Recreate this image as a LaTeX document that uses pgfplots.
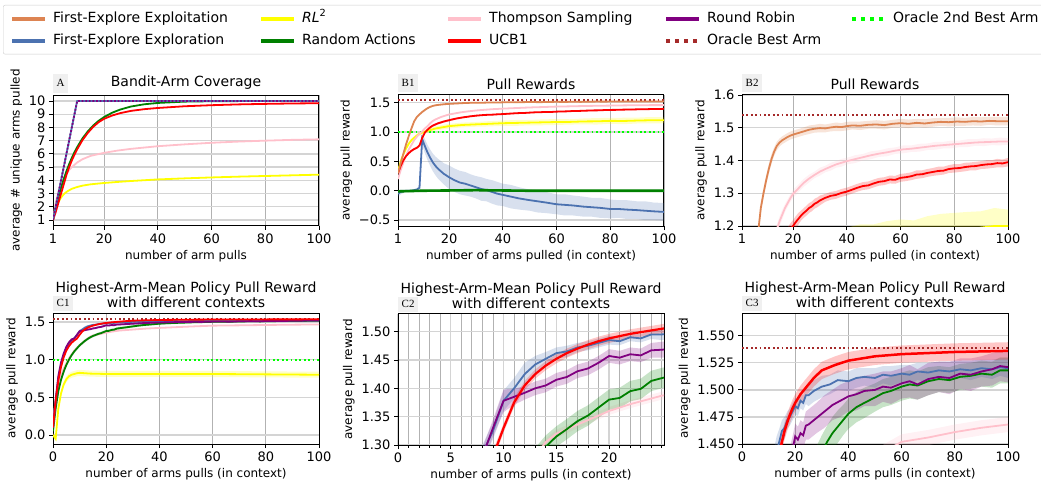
\documentclass[border=0pt]{standalone}
\usepackage{fontspec}
\setmainfont{DejaVu Sans}
\newfontfamily\panelfont{Liberation Serif}
\usepackage{pgfplots}
\pgfplotsset{compat=1.18}
\usepgfplotslibrary{fillbetween}
\usepackage{pgfplotstable}

\definecolor{cexploit}{HTML}{DD8452}
\definecolor{cexplore}{HTML}{4C72B0}
\definecolor{crl}{HTML}{FFFF00}
\definecolor{crandom}{HTML}{008000}
\definecolor{cts}{HTML}{FFC0CB}
\definecolor{cucb}{HTML}{FF0000}
\definecolor{crr}{HTML}{800080}
\definecolor{cbest}{HTML}{A52A2A}
\definecolor{csecond}{HTML}{00FF00}

% ---- A: coverage ----
\pgfplotstableread{
x y
1 1
10 10
100 10
}\aSeq
\pgfplotstableread{
x y
1 1
2 1.9
3 2.71
4 3.44
5 4.1
6 4.69
7 5.22
8 5.7
9 6.13
10 6.51
12 7.18
14 7.71
16 8.15
18 8.5
20 8.78
23 9.11
26 9.35
30 9.58
35 9.75
40 9.85
50 9.95
60 9.98
80 10
100 10
}\aRand
\pgfplotstableread{
x y
1 1
2 1.6
3 2.3
4 3.0
5 3.7
6 4.4
7 5.0
8 5.5
9 5.95
10 6.35
12 7.05
14 7.6
16 8.05
18 8.4
20 8.65
23 8.9
26 9.08
30 9.25
35 9.38
40 9.47
50 9.6
60 9.68
70 9.74
80 9.78
90 9.81
100 9.83
}\aUCB
\pgfplotstableread{
x y
1 1
2 2.3
3 3.1
4 3.7
5 4.15
6 4.5
7 4.78
8 5.0
10 5.35
12 5.6
15 5.85
20 6.08
25 6.25
30 6.38
40 6.58
50 6.72
60 6.84
70 6.93
80 7.0
90 7.06
100 7.1
}\aTS
\pgfplotstableread{
x y
1 1
2 1.85
3 2.35
4 2.7
5 2.95
6 3.12
7 3.25
8 3.36
10 3.5
12 3.6
15 3.7
20 3.8
25 3.88
30 3.95
40 4.07
50 4.15
60 4.22
70 4.28
80 4.33
90 4.38
100 4.43
}\aRL

% ---- B: pull rewards (x, mean, half band) ----
\pgfplotstableread{
x y d
1 0.30 0.02
2 0.47 0.02
3 0.63 0.02
4 0.79 0.02
5 0.93 0.02
6 1.06 0.02
7 1.18 0.02
8 1.255 0.015
9 1.30 0.015
10 1.34 0.015
11 1.375 0.015
12 1.405 0.015
13 1.428 0.013
14 1.445 0.013
15 1.455 0.012
16 1.462 0.012
17 1.467 0.012
18 1.472 0.012
19 1.476 0.012
20 1.479 0.012
22 1.484 0.012
24 1.489 0.012
26 1.494 0.013
28 1.497 0.012
30 1.499 0.013
32 1.498 0.012
34 1.501 0.012
36 1.503 0.013
38 1.502 0.012
40 1.505 0.013
42 1.507 0.012
45 1.506 0.013
48 1.509 0.012
51 1.510 0.013
54 1.508 0.013
57 1.512 0.012
60 1.514 0.013
63 1.512 0.013
66 1.515 0.012
69 1.513 0.013
72 1.516 0.013
75 1.518 0.012
78 1.517 0.013
81 1.519 0.013
84 1.518 0.012
87 1.520 0.013
90 1.519 0.013
93 1.521 0.012
96 1.520 0.013
100 1.520 0.013
}\bExploit
\pgfplotstableread{
x y d
1 0.20 0.02
2 0.35 0.02
3 0.48 0.02
4 0.60 0.02
5 0.70 0.02
6 0.78 0.02
7 0.86 0.02
8 0.92 0.02
9 0.97 0.02
10 1.01 0.02
11 1.06 0.015
12 1.10 0.015
13 1.15 0.015
14 1.19 0.015
15 1.215 0.015
16 1.235 0.015
17 1.255 0.012
18 1.27 0.012
19 1.285 0.012
20 1.298 0.012
22 1.315 0.012
24 1.332 0.012
26 1.345 0.012
28 1.356 0.01
30 1.366 0.012
32 1.374 0.01
34 1.381 0.012
36 1.388 0.01
38 1.393 0.012
40 1.398 0.01
43 1.404 0.012
46 1.41 0.01
49 1.416 0.012
52 1.421 0.01
55 1.425 0.012
58 1.43 0.01
61 1.434 0.012
64 1.436 0.01
67 1.439 0.012
70 1.442 0.01
73 1.445 0.012
76 1.447 0.01
79 1.449 0.012
82 1.451 0.01
85 1.453 0.012
88 1.455 0.01
91 1.456 0.012
94 1.457 0.01
97 1.458 0.012
100 1.458 0.01
}\bTS
\pgfplotstableread{
x y d
1 0.30 0.02
2 0.42 0.02
3 0.52 0.02
4 0.59 0.02
5 0.64 0.02
6 0.68 0.02
7 0.71 0.02
8 0.73 0.02
9 0.77 0.02
10 0.90 0.02
11 0.99 0.02
12 1.04 0.02
13 1.08 0.02
14 1.11 0.02
15 1.13 0.02
16 1.15 0.02
17 1.163 0.02
18 1.178 0.018
19 1.19 0.018
20 1.20 0.018
21 1.212 0.018
22 1.222 0.018
23 1.232 0.015
24 1.24 0.015
25 1.247 0.015
26 1.255 0.015
27 1.26 0.015
28 1.268 0.015
29 1.272 0.015
30 1.278 0.015
32 1.286 0.012
34 1.292 0.012
36 1.295 0.012
38 1.301 0.012
40 1.305 0.012
42 1.311 0.012
44 1.317 0.012
46 1.322 0.012
48 1.324 0.012
50 1.330 0.012
52 1.335 0.012
54 1.337 0.012
56 1.342 0.012
58 1.341 0.012
60 1.347 0.012
62 1.349 0.012
64 1.352 0.012
66 1.357 0.013
68 1.358 0.012
70 1.362 0.012
72 1.365 0.012
74 1.368 0.013
76 1.369 0.012
78 1.374 0.012
80 1.376 0.013
82 1.377 0.012
84 1.380 0.013
86 1.382 0.012
88 1.383 0.013
90 1.386 0.012
92 1.388 0.013
94 1.389 0.012
96 1.392 0.013
98 1.391 0.012
100 1.395 0.013
}\bUCB
\pgfplotstableread{
x y d
1 0.33 0.03
2 0.5 0.03
3 0.62 0.03
4 0.72 0.03
5 0.8 0.03
6 0.86 0.03
7 0.9 0.03
8 0.94 0.03
9 0.97 0.03
10 0.99 0.03
12 1.02 0.03
15 1.06 0.035
20 1.10 0.04
25 1.12 0.04
30 1.13 0.04
35 1.14 0.045
40 1.15 0.045
45 1.155 0.05
50 1.16 0.045
55 1.165 0.05
60 1.17 0.05
65 1.172 0.045
70 1.18 0.05
75 1.182 0.055
80 1.19 0.05
85 1.188 0.055
90 1.195 0.05
95 1.2 0.055
100 1.2 0.05
}\bRL
\pgfplotstableread{
x y d
1 -0.05 0.05
2 -0.02 0.04
3 -0.01 0.03
4 0.0 0.02
5 0.0 0.02
6 0.0 0.02
7 0.01 0.02
8 0.02 0.02
9 0.05 0.04
10 0.88 0.1
11 0.76 0.12
12 0.65 0.13
13 0.56 0.14
14 0.48 0.15
15 0.42 0.16
16 0.37 0.17
18 0.29 0.18
20 0.23 0.2
22 0.18 0.2
24 0.14 0.2
26 0.12 0.2
28 0.09 0.19
30 0.06 0.19
32 0.03 0.2
34 0.01 0.19
36 -0.02 0.2
38 -0.05 0.2
40 -0.07 0.19
43 -0.10 0.2
46 -0.13 0.19
50 -0.16 0.18
53 -0.18 0.19
56 -0.20 0.18
60 -0.23 0.17
63 -0.24 0.18
66 -0.25 0.17
70 -0.27 0.17
73 -0.28 0.16
76 -0.29 0.17
80 -0.31 0.16
83 -0.31 0.15
86 -0.32 0.16
90 -0.33 0.15
93 -0.34 0.16
96 -0.35 0.15
100 -0.36 0.15
}\bExplore
\pgfplotstableread{
x y d
1 -0.01 0.02
10 0.0 0.02
30 0.01 0.02
50 0.0 0.02
70 0.0 0.02
100 0.0 0.02
}\bRand

% ---- C: highest-arm-mean policy ----
\pgfplotstableread{
x y d
0 0.10 0.03
1 0.45 0.03
2 0.72 0.03
3 0.90 0.025
4 1.03 0.02
5 1.12 0.02
6 1.18 0.015
7 1.225 0.015
8 1.255 0.01
9 1.28 0.01
10 1.33 0.008
11 1.375 0.008
12 1.405 0.008
13 1.425 0.008
14 1.44 0.008
15 1.452 0.008
16 1.462 0.008
17 1.47 0.008
18 1.477 0.008
19 1.483 0.008
20 1.488 0.008
21 1.492 0.008
22 1.496 0.008
23 1.499 0.008
24 1.502 0.008
25 1.505 0.008
27 1.511 0.008
30 1.518 0.008
35 1.523 0.008
40 1.527 0.008
45 1.529 0.008
50 1.531 0.008
60 1.533 0.008
70 1.534 0.008
80 1.535 0.008
90 1.5355 0.008
100 1.536 0.008
}\cUCB
\pgfplotstableread{
x y d
0 0.10 0.03
1 0.45 0.03
2 0.75 0.03
3 0.93 0.03
4 1.06 0.02
5 1.15 0.02
6 1.21 0.015
7 1.25 0.015
8 1.285 0.015
9 1.325 0.015
10 1.378 0.018
11 1.40 0.018
12 1.425 0.02
13 1.442 0.015
14 1.452 0.012
15 1.462 0.01
16 1.465 0.01
17 1.472 0.008
18 1.475 0.008
19 1.48 0.008
20 1.485 0.008
21 1.483 0.007
22 1.49 0.007
23 1.488 0.007
24 1.495 0.008
25 1.495 0.01
27 1.499 0.01
30 1.503 0.01
33 1.505 0.009
36 1.509 0.009
40 1.508 0.009
43 1.511 0.009
46 1.512 0.008
50 1.511 0.009
53 1.514 0.008
56 1.513 0.009
60 1.515 0.008
63 1.514 0.009
66 1.517 0.008
70 1.516 0.009
74 1.518 0.008
78 1.517 0.009
82 1.519 0.008
86 1.518 0.009
90 1.52 0.008
94 1.519 0.009
97 1.521 0.008
100 1.52 0.009
}\cExplore
\pgfplotstableread{
x y d
0 0.10 0.03
1 0.47 0.03
2 0.78 0.03
3 0.96 0.025
4 1.08 0.02
5 1.17 0.02
6 1.23 0.015
7 1.27 0.015
8 1.28 0.015
9 1.33 0.015
10 1.378 0.02
11 1.385 0.014
12 1.392 0.012
13 1.40 0.012
14 1.405 0.012
15 1.415 0.012
16 1.42 0.012
17 1.43 0.012
18 1.435 0.012
19 1.445 0.012
20 1.457 0.012
21 1.454 0.012
22 1.46 0.012
23 1.458 0.012
24 1.467 0.013
25 1.468 0.014
28 1.474 0.014
31 1.48 0.015
34 1.486 0.014
37 1.49 0.015
40 1.494 0.014
43 1.496 0.015
46 1.499 0.014
50 1.50 0.015
53 1.503 0.014
56 1.502 0.015
60 1.506 0.014
63 1.508 0.015
66 1.505 0.014
70 1.51 0.015
74 1.512 0.014
78 1.511 0.015
82 1.515 0.014
86 1.514 0.015
90 1.517 0.014
94 1.519 0.015
97 1.522 0.014
100 1.521 0.014
}\cRR
\pgfplotstableread{
x y d
0 0.05 0.03
1 0.35 0.03
2 0.58 0.03
3 0.73 0.03
4 0.84 0.025
5 0.93 0.025
6 1.0 0.02
7 1.06 0.02
8 1.11 0.02
9 1.15 0.02
10 1.19 0.02
11 1.22 0.02
12 1.25 0.02
13 1.275 0.02
14 1.297 0.02
15 1.315 0.018
16 1.328 0.018
17 1.342 0.018
18 1.352 0.018
19 1.366 0.018
20 1.38 0.018
21 1.383 0.018
22 1.395 0.018
23 1.399 0.018
24 1.413 0.018
25 1.418 0.018
28 1.432 0.016
30 1.442 0.016
32 1.452 0.015
34 1.46 0.015
36 1.466 0.015
38 1.472 0.014
40 1.478 0.014
43 1.484 0.014
46 1.488 0.014
50 1.493 0.013
53 1.497 0.013
56 1.499 0.013
60 1.503 0.013
63 1.505 0.013
66 1.504 0.013
70 1.508 0.013
74 1.51 0.012
78 1.509 0.012
82 1.512 0.012
86 1.513 0.012
90 1.515 0.012
94 1.514 0.012
97 1.518 0.012
100 1.518 0.012
}\cRand
\pgfplotstableread{
x y d
0 0.20 0.02
1 0.45 0.02
2 0.65 0.02
3 0.78 0.02
4 0.88 0.015
5 0.95 0.015
6 1.02 0.012
7 1.07 0.01
8 1.12 0.01
9 1.16 0.008
10 1.19 0.008
11 1.22 0.007
12 1.25 0.007
13 1.28 0.007
14 1.305 0.007
15 1.32 0.007
16 1.328 0.007
17 1.336 0.007
18 1.344 0.007
19 1.352 0.007
20 1.36 0.007
21 1.366 0.007
22 1.372 0.007
23 1.377 0.007
24 1.382 0.007
25 1.387 0.007
30 1.40 0.007
35 1.413 0.007
40 1.422 0.007
45 1.43 0.007
50 1.438 0.007
55 1.445 0.007
60 1.452 0.007
70 1.456 0.007
80 1.461 0.007
90 1.465 0.007
100 1.468 0.007
}\cTS
\pgfplotstableread{
x y d
0 0.0 0.03
1 -0.05 0.03
2 0.35 0.04
3 0.55 0.04
4 0.67 0.04
5 0.74 0.04
6 0.78 0.04
7 0.80 0.04
8 0.81 0.04
9 0.82 0.04
10 0.825 0.04
12 0.82 0.04
14 0.815 0.04
20 0.81 0.04
40 0.81 0.04
60 0.81 0.04
80 0.805 0.04
100 0.80 0.04
}\cRL

\newcommand{\band}[3]{%
  \addplot[draw=none, forget plot, name path=#3u] table[x=x, y expr=\thisrow{y}+\thisrow{d}] {#1};
  \addplot[draw=none, forget plot, name path=#3l] table[x=x, y expr=\thisrow{y}-\thisrow{d}] {#1};
  \addplot[fill=#2, fill opacity=0.22, draw=none, forget plot] fill between[of=#3u and #3l];
}

\tikzset{
  plabel/.style={anchor=south west, fill=black!6, inner xsep=3.5pt, inner ysep=4.5pt,
    text height=8pt, text depth=1.5pt, font=\panelfont\fontsize{11}{11}\selectfont},
  clabel/.style={plabel, inner ysep=3pt},
  subtitle/.style={anchor=south, inner sep=0pt, yshift=5pt, font=\fontsize{14}{16}\selectfont},
  oracle/.style={line width=1.8pt, dash pattern=on 1.8pt off 2.6pt},
}
\pgfplotsset{
  panel/.style={
    scale only axis, width=266pt, height=131pt,
    clip mode=individual,
    axis line style={line width=1pt},
    tick align=outside, tick pos=left,
    major tick length=4pt, minor tick length=2.5pt,
    tick style={black, line width=0.8pt},
    xmajorgrids, ymajorgrids,
    x grid style={black!30, line width=0.8pt},
    y grid style={black!17, line width=1.3pt},
    tick label style={font=\fontsize{13}{15}\selectfont},
    label style={font=\fontsize{12}{14}\selectfont},
    title style={font=\fontsize{14}{16}\selectfont, align=center, at={(0.5,1)}, anchor=south, inner sep=0pt, yshift=-1pt},
    /pgf/number format/assume math mode=true,
    scaled ticks=false,
    every axis plot/.append style={line width=1.8pt},
  },
  cpanel/.style={panel,
    title={Highest-Arm-Mean Policy Pull Reward},
    title style={yshift=12.7pt},
    xlabel={number of arms pulls (in context)}, ylabel={average pull reward}},
}

\begin{document}
\begin{tikzpicture}

% A
\begin{axis}[panel, at={(53pt,254pt)}, anchor=south west,
  xmin=1, xmax=100, ymin=0.55, ymax=10.45,
  xtick={1,20,40,60,80,100}, ytick={1,2,...,10},
  title={Bandit-Arm Coverage},
  xlabel={number of arm pulls}, ylabel={average \# unique arms pulled}]
  \addplot[crl] table[x=x,y=y] {\aRL};
  \addplot[cts] table[x=x,y=y] {\aTS};
  \addplot[crandom] table[x=x,y=y] {\aRand};
  \addplot[cucb] table[x=x,y=y] {\aUCB};
  \addplot[cexplore] table[x=x,y=y] {\aSeq};
  \addplot[crr, dash pattern=on 1.8pt off 1.8pt] table[x=x,y=y] {\aSeq};
  \node[plabel, yshift=2pt] at (rel axis cs:0,1) {A};
\end{axis}

% B1
\begin{axis}[panel, at={(398pt,254pt)}, anchor=south west,
  xmin=1, xmax=100, ymin=-0.6, ymax=1.63,
  xtick={1,20,40,60,80,100}, ytick={-0.5,0,0.5,1,1.5},
  yticklabels={−0.5,0.0,0.5,1.0,1.5},
  title={Pull Rewards},
  xlabel={number of arms pulled (in context)}, ylabel={average pull reward}]
  \band{\bExplore}{cexplore}{be}
  \band{\bRand}{crandom}{br}
  \band{\bRL}{crl}{bl}
  \band{\bTS}{cts}{bt}
  \band{\bUCB}{cucb}{bu}
  \band{\bExploit}{cexploit}{bx}
  \addplot[cbest, oracle] coordinates {(1,1.539) (100,1.539)};
  \addplot[csecond, oracle] coordinates {(1,1.0) (100,1.0)};
  \addplot[cexplore] table[x=x,y=y] {\bExplore};
  \addplot[crandom, line width=2.6pt] table[x=x,y=y] {\bRand};
  \addplot[crl] table[x=x,y=y] {\bRL};
  \addplot[cts] table[x=x,y=y] {\bTS};
  \addplot[cucb] table[x=x,y=y] {\bUCB};
  \addplot[cexploit] table[x=x,y=y] {\bExploit};
  \node[plabel, yshift=2.3pt] at (rel axis cs:0,1) {B1};
\end{axis}

% B2
\begin{axis}[panel, at={(742pt,254pt)}, anchor=south west,
  xmin=1, xmax=100, ymin=1.2, ymax=1.6,
  xtick={1,20,40,60,80,100}, ytick={1.2,1.3,1.4,1.5,1.6},
  yticklabel style={/pgf/number format/.cd, fixed, fixed zerofill, precision=1},
  title={Pull Rewards},
  xlabel={number of arms pulled (in context)}, ylabel={average pull reward}]
  \band{\bRL}{crl}{bl}
  \band{\bTS}{cts}{bt}
  \band{\bUCB}{cucb}{bu}
  \band{\bExploit}{cexploit}{bx}
  \addplot[cbest, oracle] coordinates {(1,1.539) (100,1.539)};
  \addplot[crl] table[x=x,y=y] {\bRL};
  \addplot[cts] table[x=x,y=y] {\bTS};
  \addplot[cucb] table[x=x,y=y] {\bUCB};
  \addplot[cexploit] table[x=x,y=y] {\bExploit};
  \node[plabel, yshift=2.3pt] at (rel axis cs:0,1) {B2};
\end{axis}

% C1
\begin{axis}[cpanel, at={(53pt,36pt)}, anchor=south west,
  xmin=0, xmax=100, ymin=-0.12, ymax=1.62,
  xtick={0,20,40,60,80,100}, ytick={0,0.5,1,1.5},
  yticklabel style={/pgf/number format/.cd, fixed, fixed zerofill, precision=1}]
  \band{\cRL}{crl}{cl}
  \band{\cTS}{cts}{ct}
  \band{\cRand}{crandom}{cr}
  \band{\cExplore}{cexplore}{ce}
  \band{\cRR}{crr}{cp}
  \band{\cUCB}{cucb}{cu}
  \addplot[cbest, oracle] coordinates {(0,1.539) (100,1.539)};
  \addplot[csecond, oracle] coordinates {(0,1.0) (100,1.0)};
  \addplot[crl] table[x=x,y=y] {\cRL};
  \addplot[cts] table[x=x,y=y] {\cTS};
  \addplot[crandom] table[x=x,y=y] {\cRand};
  \addplot[cexplore] table[x=x,y=y] {\cExplore};
  \addplot[crr] table[x=x,y=y] {\cRR};
  \addplot[cucb] table[x=x,y=y] {\cUCB};
  \node[subtitle] at (rel axis cs:0.5,1) {with different contexts};
  \node[clabel, yshift=1.5pt] at (rel axis cs:0,1) {C1};
\end{axis}

% C2
\begin{axis}[cpanel, at={(398pt,35pt)}, anchor=south west,
  xmin=0, xmax=25.2, ymin=1.3, ymax=1.531,
  xtick={0,5,10,15,20}, minor xtick={1,2,...,25},
  xminorgrids,
  x grid style={black!17, line width=1.3pt},
  minor x grid style={black!30, line width=0.8pt},
  ytick={1.3,1.35,1.4,1.45,1.5},
  yticklabel style={/pgf/number format/.cd, fixed, fixed zerofill, precision=2}]
  \band{\cTS}{cts}{ct}
  \band{\cRand}{crandom}{cr}
  \band{\cExplore}{cexplore}{ce}
  \band{\cRR}{crr}{cp}
  \band{\cUCB}{cucb}{cu}
  \addplot[cts] table[x=x,y=y] {\cTS};
  \addplot[crandom] table[x=x,y=y] {\cRand};
  \addplot[cexplore] table[x=x,y=y] {\cExplore};
  \addplot[crr] table[x=x,y=y] {\cRR};
  \addplot[cucb, line width=2.2pt] table[x=x,y=y] {\cUCB};
  \node[subtitle] at (rel axis cs:0.5,1) {with different contexts};
  \node[clabel, yshift=1.5pt] at (rel axis cs:0,1) {C2};
\end{axis}

% C3
\begin{axis}[cpanel, at={(742pt,36pt)}, anchor=south west,
  xmin=0, xmax=100, ymin=1.45, ymax=1.571,
  xtick={0,20,40,60,80,100}, ytick={1.45,1.475,1.5,1.525,1.55},
  yticklabel style={/pgf/number format/.cd, fixed, fixed zerofill, precision=3}]
  \band{\cTS}{cts}{ct}
  \band{\cRand}{crandom}{cr}
  \band{\cExplore}{cexplore}{ce}
  \band{\cRR}{crr}{cp}
  \band{\cUCB}{cucb}{cu}
  \addplot[cbest, oracle] coordinates {(0,1.539) (100,1.539)};
  \addplot[cts] table[x=x,y=y] {\cTS};
  \addplot[crandom] table[x=x,y=y] {\cRand};
  \addplot[cexplore] table[x=x,y=y] {\cExplore};
  \addplot[crr] table[x=x,y=y] {\cRR};
  \addplot[cucb, line width=2.5pt] table[x=x,y=y] {\cUCB};
  \node[subtitle] at (rel axis cs:0.5,1) {with different contexts};
  \node[clabel, yshift=1.5pt] at (rel axis cs:0,1) {C3};
\end{axis}

% legend
\begin{axis}[hide axis, scale only axis, width=10pt, height=10pt,
  xmin=0, xmax=1, ymin=0, ymax=1,
  at={(3pt,475pt)}, anchor=north west,
  legend columns=5, legend cell align=left,
  legend image code/.code={\draw[#1] (0pt,0pt) -- (33pt,0pt);},
  legend style={at={(0,1)}, anchor=north west, draw=black!20, rounded corners=2pt,
    font=\fontsize{14}{16}\selectfont, inner xsep=7pt, inner ysep=4.5pt, row sep=4pt,
    nodes={inner xsep=0pt, inner ysep=2pt, text height=10.5pt, text depth=3.5pt},
    /tikz/every odd column/.append style={column sep=6pt},
    /tikz/every even column/.append style={column sep=0pt}}]
  \addlegendimage{cexploit, line width=4pt}
  \addlegendimage{crl, line width=4pt}
  \addlegendimage{cts, line width=4pt}
  \addlegendimage{crr, line width=4pt}
  \addlegendimage{csecond, line width=4pt, dash pattern=on 4pt off 5pt}
  \addlegendimage{cexplore, line width=4pt}
  \addlegendimage{crandom, line width=4pt}
  \addlegendimage{cucb, line width=4pt}
  \addlegendimage{cbest, line width=4pt, dash pattern=on 4pt off 5pt}
  \addplot[draw=none] coordinates {(0,0) (1,1)};
  \legend{\makebox[206pt][l]{First-Explore Exploitation},
    \makebox[144pt][l]{\textit{RL}\textsuperscript{2}},
    \makebox[175pt][l]{Thompson Sampling},
    \makebox[143pt][l]{Round Robin},
    Oracle 2nd Best Arm,
    \makebox[206pt][l]{First-Explore Exploration},
    \makebox[144pt][l]{Random Actions},
    \makebox[175pt][l]{UCB1},
    \makebox[143pt][l]{Oracle Best Arm}}
\end{axis}

\pgfresetboundingbox
\path[use as bounding box] (0pt,0pt) rectangle (1041pt,480pt);
\end{tikzpicture}
\end{document}
